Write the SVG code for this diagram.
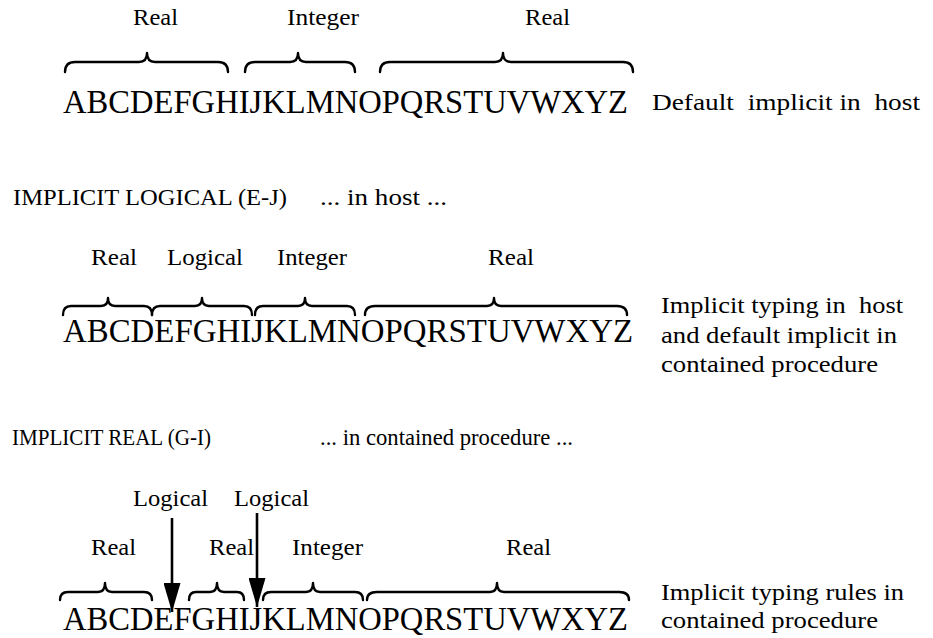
<svg xmlns="http://www.w3.org/2000/svg" width="933" height="638" viewBox="0 0 933 638">
  <style>
    text { font-family: "Liberation Serif", "Times New Roman", serif; fill: #000; white-space: pre; }
    .lbl { font-size: 23px; }
    .abc { font-size: 33px; }
    .note { font-size: 23px; }
    .hdr { font-size: 23px; }
    .brace { fill: none; stroke: #000; stroke-width: 2.4; stroke-linecap: round; stroke-linejoin: round; }
    .shaft { stroke: #000; stroke-width: 2.6; fill: none; }
  </style>
  <defs>
    <marker id="head" viewBox="0 0 29 17" refX="29" refY="8.5" markerWidth="29" markerHeight="17" markerUnits="userSpaceOnUse" orient="auto">
      <path d="M0,0 L29,8.5 L0,17 z" fill="#000"/>
    </marker>
  </defs>

  <rect width="933" height="638" fill="#fff"/>

  <!-- Default implicit typing in the host -->
  <g id="row-default">
    <g id="row-default-labels">
      <text class="lbl" x="133" y="25" textLength="45" lengthAdjust="spacingAndGlyphs">Real</text>
      <text class="lbl" x="287" y="25" textLength="72" lengthAdjust="spacingAndGlyphs">Integer</text>
      <text class="lbl" x="525" y="25" textLength="45" lengthAdjust="spacingAndGlyphs">Real</text>
    </g>
    <g id="row-default-braces">
      <path class="brace" d="M65,72 Q65,62 75,62 L139,62 Q147,62 147,53 Q147,62 155,62 L218,62 Q228,62 228,72"/>
      <path class="brace" d="M245,72 Q245,62 255,62 L290,62 Q298,62 298,53 Q298,62 306,62 L345,62 Q355,62 355,72"/>
      <path class="brace" d="M380,72 Q380,62 390,62 L495,62 Q503,62 503,53 Q503,62 511,62 L623,62 Q633,62 633,72"/>
    </g>
    <text id="row-default-letters" class="abc" x="63" y="113" textLength="565" lengthAdjust="spacingAndGlyphs">ABCDEFGHIJKLMNOPQRSTUVWXYZ</text>
    <text id="row-default-note" class="note" x="652" y="110" textLength="268" lengthAdjust="spacingAndGlyphs">Default  implicit in  host</text>
  </g>

  <!-- Host statement -->
  <g id="host-statement">
    <text class="hdr" x="13" y="205" textLength="274" lengthAdjust="spacingAndGlyphs">IMPLICIT LOGICAL (E-J)</text>
    <text class="hdr" x="320" y="205" textLength="127" lengthAdjust="spacingAndGlyphs">... in host ...</text>
  </g>

  <!-- Typing in host, default in contained procedure -->
  <g id="row-host">
    <g id="row-host-labels">
      <text class="lbl" x="91" y="265" textLength="46" lengthAdjust="spacingAndGlyphs">Real</text>
      <text class="lbl" x="167" y="265" textLength="76" lengthAdjust="spacingAndGlyphs">Logical</text>
      <text class="lbl" x="277" y="265" textLength="70" lengthAdjust="spacingAndGlyphs">Integer</text>
      <text class="lbl" x="488" y="265" textLength="46" lengthAdjust="spacingAndGlyphs">Real</text>
    </g>
    <g id="row-host-braces">
      <path class="brace" d="M63,315 Q63,306 71,306 L101,306 Q108,306 108,298 Q108,306 115,306 L144,306 Q152,306 152,315"/>
      <path class="brace" d="M152,315 Q152,306 160,306 L195,306 Q202,306 202,298 Q202,306 209,306 L244,306 Q252,306 252,315"/>
      <path class="brace" d="M255,315 Q255,306 263,306 L298,306 Q305,306 305,298 Q305,306 312,306 L347,306 Q355,306 355,315"/>
      <path class="brace" d="M365,315 Q365,306 375,306 L487,306 Q494,306 494,298 Q494,306 501,306 L617,306 Q627,306 627,315"/>
    </g>
    <text id="row-host-letters" class="abc" x="63" y="342" textLength="570" lengthAdjust="spacingAndGlyphs">ABCDEFGHIJKLMNOPQRSTUVWXYZ</text>
    <g id="row-host-note">
      <text class="note" x="661" y="313" textLength="242" lengthAdjust="spacingAndGlyphs">Implicit typing in  host</text>
      <text class="note" x="661" y="343" textLength="236" lengthAdjust="spacingAndGlyphs">and default implicit in</text>
      <text class="note" x="661" y="372" textLength="217" lengthAdjust="spacingAndGlyphs">contained procedure</text>
    </g>
  </g>

  <!-- Contained procedure statement -->
  <g id="contained-statement">
    <text class="hdr" x="12" y="445" textLength="199" lengthAdjust="spacingAndGlyphs">IMPLICIT REAL (G-I)</text>
    <text class="hdr" x="320" y="445" textLength="253" lengthAdjust="spacingAndGlyphs">... in contained procedure ...</text>
  </g>

  <!-- Typing rules in contained procedure -->
  <g id="row-contained">
    <g id="row-contained-pointers">
      <text class="lbl" x="133" y="506" textLength="75" lengthAdjust="spacingAndGlyphs">Logical</text>
      <text class="lbl" x="234" y="506" textLength="75" lengthAdjust="spacingAndGlyphs">Logical</text>
    </g>
    <g id="row-contained-labels">
      <text class="lbl" x="91" y="555" textLength="45" lengthAdjust="spacingAndGlyphs">Real</text>
      <text class="lbl" x="209" y="555" textLength="45" lengthAdjust="spacingAndGlyphs">Real</text>
      <text class="lbl" x="292" y="555" textLength="71" lengthAdjust="spacingAndGlyphs">Integer</text>
      <text class="lbl" x="506" y="555" textLength="45" lengthAdjust="spacingAndGlyphs">Real</text>
    </g>
    <g id="row-contained-braces">
      <path class="brace" d="M60,600 Q60,592 68,592 L98,592 Q105,592 105,583 Q105,592 112,592 L144,592 Q152,592 152,600"/>
      <path class="brace" d="M189,600 Q189,592 196,592 L210,592 Q217,592 217,583 Q217,592 224,592 L237,592 Q244,592 244,600"/>
      <path class="brace" d="M263,600 Q263,592 271,592 L306,592 Q313,592 313,583 Q313,592 320,592 L355,592 Q363,592 363,600"/>
      <path class="brace" d="M367,600 Q367,592 377,592 L490,592 Q497,592 497,583 Q497,592 504,592 L619,592 Q629,592 629,600"/>
    </g>
    <text id="row-contained-letters" class="abc" x="63" y="630" textLength="565" lengthAdjust="spacingAndGlyphs">ABCDEFGHIJKLMNOPQRSTUVWXYZ</text>
    <g id="row-contained-note">
      <text class="note" x="661" y="600" textLength="243" lengthAdjust="spacingAndGlyphs">Implicit typing rules in</text>
      <text class="note" x="661" y="628" textLength="217" lengthAdjust="spacingAndGlyphs">contained procedure</text>
    </g>
  </g>

  <!-- Connectors: Logical pointers to letters E-F and I-J -->
  <g id="connectors">
    <line class="shaft" x1="172" y1="518" x2="172" y2="612" marker-end="url(#head)"/>
    <line class="shaft" x1="257" y1="513" x2="257" y2="607" marker-end="url(#head)"/>
  </g>
</svg>
